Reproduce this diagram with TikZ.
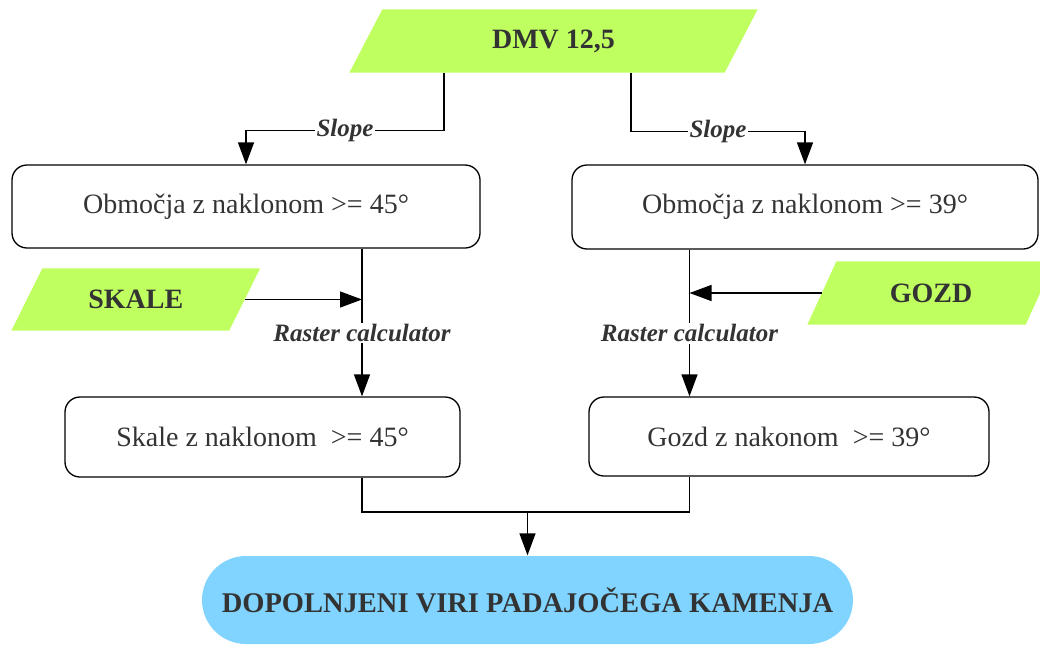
\documentclass[tikz,border=0pt]{standalone}
\usepackage{fontspec}
\setmainfont{Liberation Serif}
\usetikzlibrary{arrows.meta,backgrounds}
\definecolor{inputgreen}{HTML}{C0FF60}
\definecolor{resultblue}{HTML}{80D4FF}
\definecolor{ink}{HTML}{333333}
\begin{document}
\begin{tikzpicture}[x=1pt,y=-1pt,
  line width=1.3pt,
  arr/.style={-{Triangle[length=22pt,width=16pt]}},
  databox/.style={rectangle, draw=none, inner sep=0pt,
    text=ink, font=\fontsize{28}{32}\selectfont\bfseries},
  procbox/.style={rectangle, draw=black, rounded corners=15pt, inner sep=0pt,
    text=ink, font=\fontsize{28}{32}\selectfont},
  toollabel/.style={fill=white, inner sep=1.5pt, text=ink,
    font=\fontsize{25}{28}\selectfont\bfseries\itshape},
  resultbox/.style={rectangle, fill=resultblue, rounded corners=44pt, inner sep=0pt,
    text=ink, font=\fontsize{28.5}{32}\selectfont\bfseries},
]
\useasboundingbox (0,0) rectangle (1040,645);

% input data sets (the node is the mid-line body of the parallelogram)
\node[databox, minimum width=374pt, minimum height=62pt] (dmv) at (553.5,41) {DMV 12,5};
\node[databox, minimum width=216.5pt, minimum height=61pt] (skale) at (135.75,299.5) {SKALE};
\node[databox, minimum width=217pt, minimum height=62pt] (gozd) at (931,293) {GOZD};

\begin{scope}[on background layer]
  \foreach \n/\s in {dmv/16.5, skale/15.5, gozd/14.5} {
    \fill[inputgreen] ([xshift=-\s pt]\n.south west) -- ([xshift=\s pt]\n.north west)
      -- ([xshift=\s pt]\n.north east) -- ([xshift=-\s pt]\n.south east) -- cycle;
  }
\end{scope}

% intermediate rasters
\node[procbox, minimum width=468pt, minimum height=83pt] (obmL) at (246,206.5) {Območja z naklonom >= 45°};
\node[procbox, minimum width=466pt, minimum height=84pt] (obmR) at (805,207) {Območja z naklonom >= 39°};
\node[procbox, minimum width=395pt, minimum height=80pt] (skl) at (262.5,437) {Skale z naklonom~ >= 45°};
\node[procbox, minimum width=400pt, minimum height=79pt] (gzd) at (789,436.5) {Gozd z nakonom~ >= 39°};

% final result
\node[resultbox, minimum width=651pt, minimum height=88pt] (res) at (527.5,600) {DOPOLNJENI VIRI PADAJOČEGA KAMENJA};

% columns used by the connectors
\coordinate (dl) at (444,0);
\coordinate (dr) at (631,0);
\coordinate (jl) at (362,0);
\coordinate (jr) at (689.5,0);
\coordinate (jm) at (527.5,512);

% slope from the DEM
\draw[arr] (dmv.south -| dl) -- ++(0,58) -| node[toollabel,pos=0.25]{Slope} (obmL.north);
\draw[arr] (dmv.south -| dr) -- ++(0,59) -| node[toollabel,pos=0.25]{Slope} (obmR.north);

% raster calculator steps
\draw[arr] (obmL.south -| jl) -- node[toollabel,pos=0.57]{Raster calculator} (skl.north -| jl);
\draw[arr] (obmR.south -| jr) -- node[toollabel,pos=0.57]{Raster calculator} (gzd.north -| jr);
\draw[arr] (skale.east) -- (skale.east -| jl);
\draw[arr] (gozd.west) -- (gozd.west -| jr);

% merge into the result
\draw (skl.south -| jl) |- (jm) -| (gzd.south -| jr);
\draw[arr] (jm) -- (res.north);
\end{tikzpicture}
\end{document}
